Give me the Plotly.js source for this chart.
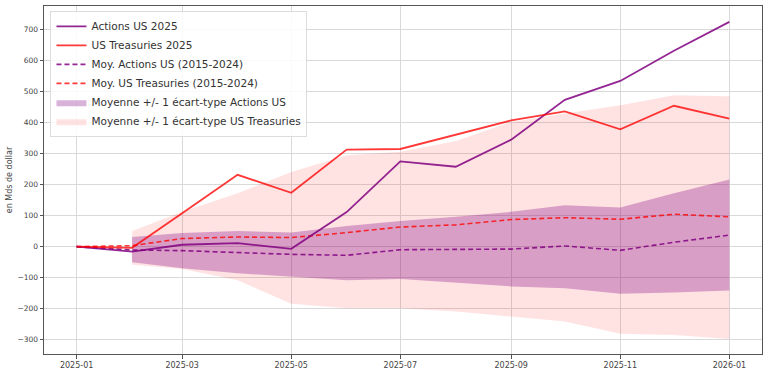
<!DOCTYPE html>
<html>
<head>
<meta charset="utf-8">
<script src="https://cdn.plot.ly/plotly-3.0.1.min.js"></script>
<style>html,body{margin:0;padding:0;background:#fff;}#chart{width:768px;height:373px;}</style>
</head>
<body>
<div id="chart"></div>
<script>
const months = ['2025-01-01','2025-02-01','2025-03-01','2025-04-01','2025-05-01','2025-06-01','2025-07-01','2025-08-01','2025-09-01','2025-10-01','2025-11-01','2025-12-01','2026-01-01'];
const bandMonths = months.slice(1);

const actions2025 = [0, -16, 6, 11, -7, 111, 274, 257, 344, 472, 533, 630, 723];
const treasuries2025 = [0, -4, 107, 231, 173, 312, 314, 360, 406, 435, 377, 453, 412];
const avgActions = [0, -11, -13, -19, -25, -28, -10, -9, -8, 2, -12, 14, 37];
const avgTreasuries = [0, 3, 26, 31, 29, 45, 63, 70, 87, 93, 88, 104, 96];

const actionsUpper = [31, 44, 50, 45, 66, 82, 96, 112, 133, 126, 172, 216];
const actionsLower = [-50, -70, -86, -96, -108, -104, -116, -128, -134, -152, -148, -141];
const treasUpper = [50, 112, 172, 240, 294, 305, 340, 401, 428, 455, 487, 484];
const treasLower = [-58, -72, -108, -184, -198, -198, -209, -225, -241, -280, -284, -297];

const names = ['Actions US 2025','US Treasuries 2025','Moy. Actions US (2015-2024)','Moy. US Treasuries (2015-2024)','Moyenne +/- 1 écart-type Actions US','Moyenne +/- 1 écart-type US Treasuries'];

const purpleLine = 'rgba(128,0,128,0.85)';
const redLine = 'rgba(255,0,0,0.78)';

const traces = [
  {x: bandMonths, y: treasLower, type:'scatter', mode:'lines', line:{width:0, color:'rgba(255,0,0,0)'}, showlegend:false, hoverinfo:'skip'},
  {x: bandMonths, y: treasUpper, type:'scatter', mode:'lines', line:{width:0, color:'rgba(255,0,0,0)'}, fill:'tonexty', fillcolor:'rgba(255,0,0,0.11)', name:names[5], legendrank:6},
  {x: bandMonths, y: actionsLower, type:'scatter', mode:'lines', line:{width:0, color:'rgba(128,0,128,0)'}, showlegend:false, hoverinfo:'skip'},
  {x: bandMonths, y: actionsUpper, type:'scatter', mode:'lines', line:{width:0, color:'rgba(128,0,128,0)'}, fill:'tonexty', fillcolor:'rgba(128,0,128,0.3)', name:names[4], legendrank:5},
  {x: months, y: avgActions, type:'scatter', mode:'lines', line:{width:1.6, color:purpleLine, dash:'5px,3px'}, name:names[2], legendrank:3},
  {x: months, y: avgTreasuries, type:'scatter', mode:'lines', line:{width:1.6, color:redLine, dash:'5px,3px'}, name:names[3], legendrank:4},
  {x: months, y: actions2025, type:'scatter', mode:'lines', line:{width:1.8, color:purpleLine}, name:names[0], legendrank:1},
  {x: months, y: treasuries2025, type:'scatter', mode:'lines', line:{width:1.8, color:redLine}, name:names[1], legendrank:2}
];

const layout = {
  width:768, height:373,
  margin:{l:44, r:6, t:6, b:19},
  paper_bgcolor:'#fff', plot_bgcolor:'#fff',
  font:{family:'DejaVu Sans', color:'#333'},
  showlegend:true,
  legend:{x:0.009, y:0.986, xanchor:'left', yanchor:'top', traceorder:'normal', bgcolor:'rgba(255,255,255,0.85)', bordercolor:'#dcdcdc', borderwidth:1, font:{size:10.5, color:'#333'}, tracegroupgap:0},
  xaxis:{
    type:'date', range:['2024-12-13 18:00','2026-01-19 06:00'],
    tickvals:['2025-01-01','2025-03-01','2025-05-01','2025-07-01','2025-09-01','2025-11-01','2026-01-01'],
    ticktext:['2025-01','2025-03','2025-05','2025-07','2025-09','2025-11','2026-01'],
    showgrid:true, gridcolor:'#d9d9d9', gridwidth:1,
    showline:true, linecolor:'#555', linewidth:1, mirror:true,
    ticks:'outside', ticklen:3.5, tickcolor:'#555',
    tickfont:{size:8, color:'#444'}, zeroline:false
  },
  yaxis:{
    range:[-345.5, 774],
    tickvals:[-300,-200,-100,0,100,200,300,400,500,600,700],
    showgrid:true, gridcolor:'#d9d9d9', gridwidth:1,
    showline:true, linecolor:'#555', linewidth:1, mirror:true,
    ticks:'outside', ticklen:3.5, tickcolor:'#555',
    tickfont:{size:7.5, color:'#444'}, zeroline:false,
    title:{text:'en Mds de dollar', font:{size:8, color:'#444'}, standoff:3}
  }
};

Plotly.newPlot('chart', traces, layout, {displayModeBar:false, staticPlot:true});
</script>
</body>
</html>
